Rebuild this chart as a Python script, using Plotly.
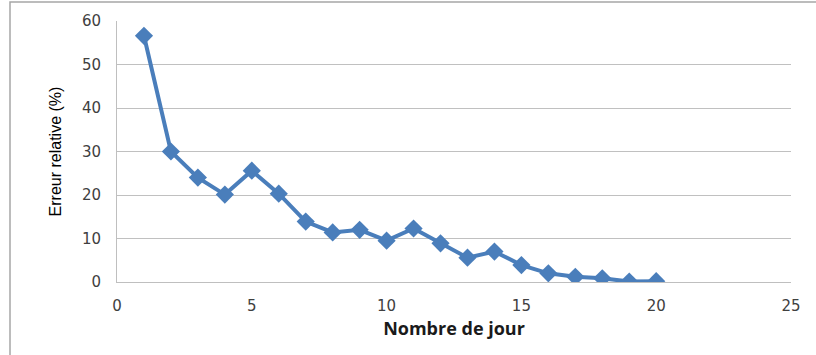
import plotly.graph_objects as go

# Relative error per day
jours = list(range(1, 21))
erreur = [56.6, 30.0, 24.0, 20.1, 25.6, 20.3, 13.9, 11.4, 12.0, 9.5,
          12.3, 8.9, 5.6, 7.0, 3.9, 2.0, 1.2, 0.85, 0.1, 0.2]

x_ticks = [0, 5, 10, 15, 20, 25]
y_ticks = [0, 10, 20, 30, 40, 50, 60]

W, H = 816, 355
L, R, T, B = 117, 25, 21, 73
pw, ph = W - L - R, H - T - B

fig = go.Figure()
fig.add_trace(go.Scatter(
    x=jours, y=erreur, mode="lines+markers",
    line=dict(color="#4A7EBB", width=4),
    marker=dict(symbol="diamond", size=14, color="#4A7EBB"),
    showlegend=False,
))

tick_font = dict(family="DejaVu Sans, Verdana, sans-serif", size=15, color="#404040")

fig.update_xaxes(
    range=[0, 25], tickvals=x_ticks, showgrid=False, zeroline=False,
    showline=True, linecolor="#BFBFBF", linewidth=1,
    ticks="outside", ticklen=10, tickcolor="rgba(0,0,0,0)",
    tickfont=tick_font,
    title=dict(text="<b>Nombre de jour</b>", standoff=8,
               font=dict(family="Open Sans, sans-serif", size=18, color="#1a1a1a")),
)
fig.update_yaxes(
    range=[0, 60], tickvals=y_ticks, showgrid=True, gridcolor="#C0C0C0", gridwidth=1,
    zeroline=False, showline=True, linecolor="#BFBFBF", linewidth=1,
    ticks="outside", ticklen=12, tickcolor="rgba(0,0,0,0)",
    tickfont=tick_font,
    title=dict(text="Erreur relative (%)", standoff=16,
               font=dict(family="Liberation Sans Narrow, Arial Narrow, sans-serif",
                         size=16, color="#000000")),
)

# chart-area border (left and top edges visible)
fig.add_shape(type="rect", xref="paper", yref="paper",
              x0=(10 - L) / pw, x1=(W + 20 - L) / pw,
              y0=-(B + 20) / ph, y1=1 + (T - 2) / ph,
              line=dict(color="#A6A6A6", width=1.5), layer="below")

fig.update_layout(
    width=W, height=H,
    margin=dict(l=L, r=R, t=T, b=B),
    plot_bgcolor="white", paper_bgcolor="white",
)

fig.write_html("out.html")
